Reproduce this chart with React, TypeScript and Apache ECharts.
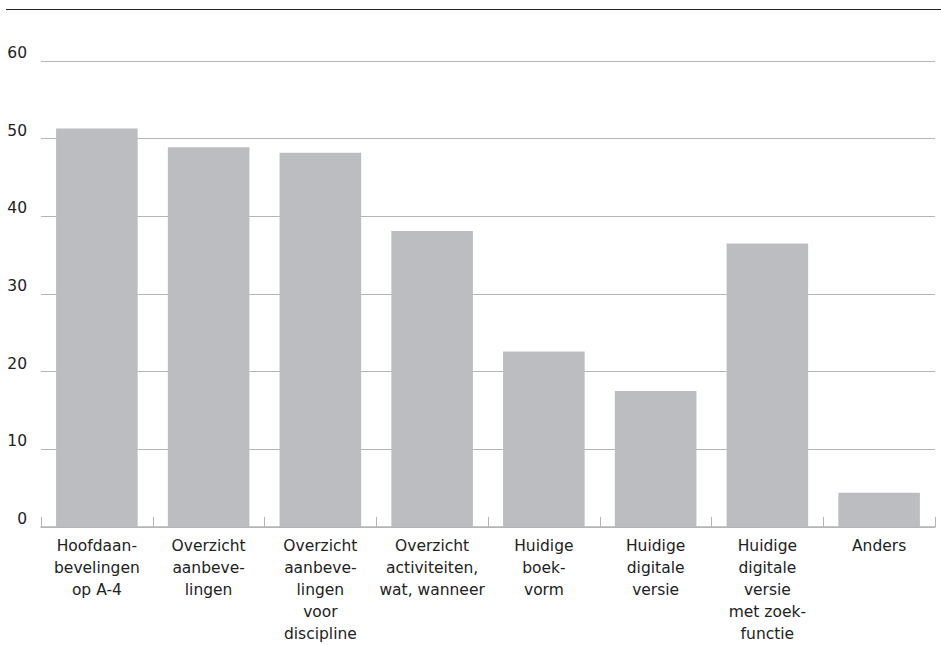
import React, { useEffect, useRef } from "react";
import * as echarts from "echarts";

const categories = [
  "Hoofdaan-\nbevelingen\nop A-4",
  "Overzicht\naanbeve-\nlingen",
  "Overzicht\naanbeve-\nlingen\nvoor\ndiscipline",
  "Overzicht\nactiviteiten,\nwat, wanneer",
  "Huidige\nboek-\nvorm",
  "Huidige\ndigitale\nversie",
  "Huidige\ndigitale\nversie\nmet zoek-\nfunctie",
  "Anders",
];
const values = [51.3, 48.9, 48.2, 38.1, 22.6, 17.5, 36.5, 4.4];

const FONT = "'DejaVu Sans', 'Open Sans', sans-serif";

export default function App() {
  const ref = useRef<HTMLDivElement>(null);
  useEffect(() => {
    if (!ref.current) return;
    const chart = echarts.init(ref.current, null, { renderer: "svg" });
    chart.setOption({
      animation: false,
      grid: { left: 41, right: 6, top: 61, bottom: 118, containLabel: false, outerBoundsMode: "none" },
      graphic: [
        {
          type: "line",
          shape: { x1: 6, y1: 9.5, x2: 941, y2: 9.5 },
          style: { stroke: "#222", lineWidth: 1.2 },
        },
      ],
      xAxis: {
        type: "category",
        data: categories,
        axisLine: { show: true, lineStyle: { color: "#b5b5b5", width: 1.5 } },
        axisTick: { show: true, inside: true, length: 10, lineStyle: { color: "#b5b5b5" } },
        axisLabel: {
          interval: 0,
          margin: 8,
          color: "#222",
          fontSize: 15.5,
          lineHeight: 22,
          fontFamily: FONT,
          align: "center",
        },
      },
      yAxis: {
        type: "value",
        min: 0,
        max: 60,
        interval: 10,
        axisLine: { show: false },
        axisTick: { show: false },
        splitLine: { show: true, lineStyle: { color: "#b5b5b5", width: 1.2 } },
        axisLabel: {
          margin: 14,
          color: "#222",
          fontSize: 15.5,
          verticalAlign: "bottom",
          fontFamily: FONT,
        },
      },
      series: [
        {
          type: "bar",
          data: values,
          barWidth: "73%",
          itemStyle: { color: "#bcbdc0" },
        },
      ],
    });
    return () => chart.dispose();
  }, []);
  return <div ref={ref} style={{ width: 941, height: 645, position: "absolute", left: 0, top: 0 }} />;
}
